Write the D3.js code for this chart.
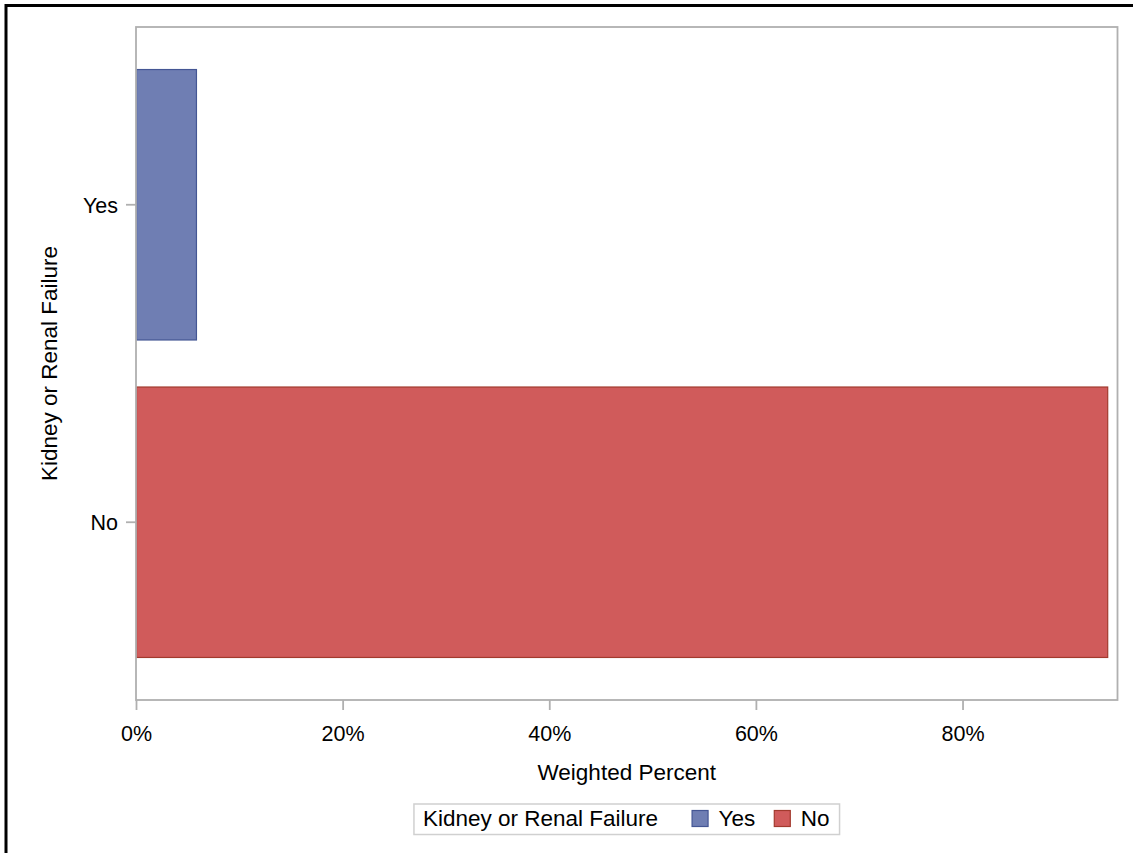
<!DOCTYPE html>
<html>
<head>
<meta charset="utf-8">
<script src="https://cdn.jsdelivr.net/npm/d3@7"></script>
<style>
  html, body { margin: 0; padding: 0; background: #fff; }
  svg { display: block; font-family: "Liberation Sans", Arial, sans-serif; }
</style>
</head>
<body>
<svg id="chart" width="1133" height="853"></svg>
<script>
const categories = ["Yes", "No"];
const values = [5.9, 94.1];
const xTicks = [0, 20, 40, 60, 80];
const xDomainMax = 95;
const fillColors = ["#6F7EB3", "#D05B5B"];
const lineColors = ["#445694", "#A23A2E"];
const xTitle = "Weighted Percent";
const yTitle = "Kidney or Renal Failure";
const legendTitle = "Kidney or Renal Failure";

const svg = d3.select("#chart");
const W = 1133, H = 853;
const plot = { left: 136, right: 1117.5, top: 27, bottom: 700 };
const axisColor = "#b0b0b0";

// outer frame
svg.append("rect").attr("x", 6).attr("y", 5.5).attr("width", W + 20).attr("height", H + 20)
  .attr("fill", "#fff").attr("stroke", "#000").attr("stroke-width", 3);

const x = d3.scaleLinear().domain([0, xDomainMax]).range([plot.left, plot.right]);
const y = d3.scaleBand().domain(categories).range([plot.top, plot.bottom])
  .paddingInner(0.145).paddingOuter(0.1324).align(0.5);

// bars
svg.append("g").selectAll("rect").data(categories).join("rect")
  .attr("x", x(0) + 0.5)
  .attr("y", d => y(d) + 0.5)
  .attr("width", (d, i) => x(values[i]) - x(0) - 1)
  .attr("height", y.bandwidth() - 1)
  .attr("fill", (d, i) => fillColors[i])
  .attr("stroke", (d, i) => lineColors[i])
  .attr("stroke-width", 1.2);

// plot frame
svg.append("rect").attr("x", plot.left).attr("y", plot.top)
  .attr("width", plot.right - plot.left).attr("height", plot.bottom - plot.top)
  .attr("fill", "none").attr("stroke", axisColor).attr("stroke-width", 1.8);

// x axis
const xAxis = d3.axisBottom(x).tickValues(xTicks).tickFormat(d => d + "%")
  .tickSize(10).tickSizeOuter(0).tickPadding(21);
const gx = svg.append("g").attr("transform", `translate(0,${plot.bottom})`).call(xAxis);
gx.select(".domain").remove();
gx.selectAll(".tick line").attr("stroke", axisColor).attr("stroke-width", 1.8);
gx.selectAll(".tick text").attr("fill", "#000").attr("font-size", 21.5)
  .attr("font-family", "'Liberation Sans', Arial, sans-serif").attr("dy", null).attr("y", 41);

// y axis
const yAxis = d3.axisLeft(y).tickSize(10).tickSizeOuter(0).tickPadding(8);
const gy = svg.append("g").attr("transform", `translate(${plot.left},0)`).call(yAxis);
gy.select(".domain").remove();
gy.selectAll(".tick line").attr("stroke", axisColor).attr("stroke-width", 1.8);
gy.selectAll(".tick text").attr("fill", "#000").attr("font-size", 21.5)
  .attr("font-family", "'Liberation Sans', Arial, sans-serif").attr("dy", "0.36em");

// axis titles
svg.append("text").attr("x", (plot.left + plot.right) / 2).attr("y", 780)
  .attr("text-anchor", "middle").attr("font-size", 22.5).attr("fill", "#000").text(xTitle);
svg.append("text").attr("transform", `translate(57,${(plot.top + plot.bottom) / 2}) rotate(-90)`)
  .attr("text-anchor", "middle").attr("font-size", 22.5).attr("fill", "#000").text(yTitle);

// legend
const lg = svg.append("g");
const lgBox = lg.append("rect").attr("y", 804).attr("height", 30.5)
  .attr("fill", "#fff").attr("stroke", "#d0d0d0").attr("stroke-width", 1.5);
let cx = 0;
const baseY = 826;
const t0 = lg.append("text").attr("x", 9).attr("y", baseY).attr("font-size", 22.5).attr("fill", "#000").text(legendTitle);
cx = 9 + t0.node().getComputedTextLength() + 34;
categories.forEach((c, i) => {
  lg.append("rect").attr("x", cx).attr("y", 810.5).attr("width", 16).attr("height", 16)
    .attr("fill", fillColors[i]).attr("stroke", lineColors[i]).attr("stroke-width", 1.2);
  cx += 16 + 10.5;
  const t = lg.append("text").attr("x", cx).attr("y", baseY).attr("font-size", 22.5).attr("fill", "#000").text(c);
  cx += t.node().getComputedTextLength() + (i < categories.length - 1 ? 19 : 10);
});
lgBox.attr("x", 0).attr("width", cx);
const lgLeft = (plot.left + plot.right) / 2 - cx / 2;
lg.attr("transform", `translate(${lgLeft},0)`);
</script>
</body>
</html>
